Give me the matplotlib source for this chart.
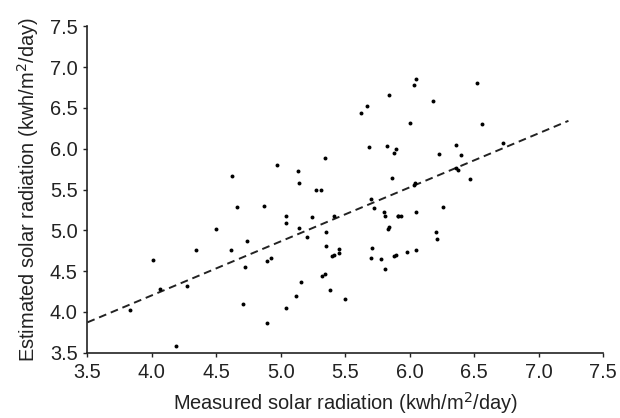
import matplotlib
matplotlib.use("Agg")
import matplotlib.pyplot as plt
import numpy as np

plt.rcParams['font.family'] = ['Liberation Sans', 'DejaVu Sans']

# measured vs estimated solar radiation (kwh/m2/day)
measured = [
    4.62, 4.66, 4.50, 4.74, 4.34, 4.61, 4.01, 4.72, 4.06, 4.27, 3.83, 4.71, 4.19,
    4.97, 5.34, 5.88, 5.13, 5.14, 5.27, 5.31, 5.86, 4.87, 5.70, 5.72, 5.80, 5.81,
    5.91, 5.84, 5.83, 5.04, 5.04, 5.41, 5.24, 5.14, 5.20, 5.35, 5.35, 4.89, 4.92,
    5.40, 5.41, 5.45, 5.45, 5.71, 5.70, 5.78, 5.81, 5.88, 5.89, 5.32, 5.34, 5.16,
    5.12, 5.38, 5.50, 5.04, 4.89,
    6.05, 6.03, 5.84, 6.52, 6.18, 6.00, 6.56, 5.82, 5.89, 6.36, 6.23, 6.40, 6.36,
    6.37, 6.47, 6.04, 6.03, 5.91, 5.93, 6.05, 6.26, 6.20, 6.21, 5.98, 6.05,
    5.67, 5.62, 5.68, 6.72,
]
estimated = [
    5.67, 5.29, 5.02, 4.87, 4.76, 4.76, 4.64, 4.55, 4.28, 4.32, 4.03, 4.10, 3.58,
    5.80, 5.89, 5.95, 5.73, 5.58, 5.50, 5.50, 5.64, 5.30, 5.38, 5.28, 5.23, 5.17,
    5.18, 5.04, 5.02, 5.18, 5.09, 5.18, 5.16, 5.03, 4.92, 4.98, 4.81, 4.63, 4.66,
    4.69, 4.70, 4.77, 4.72, 4.79, 4.66, 4.65, 4.53, 4.69, 4.70, 4.44, 4.47, 4.37,
    4.19, 4.27, 4.16, 4.05, 3.86,
    6.85, 6.78, 6.66, 6.81, 6.59, 6.31, 6.30, 6.03, 6.00, 6.04, 5.93, 5.92, 5.76,
    5.74, 5.63, 5.58, 5.55, 5.18, 5.18, 5.23, 5.29, 4.98, 4.89, 4.74, 4.76,
    6.52, 6.44, 6.02, 6.07,
]

# fitted trend line
fit_x = [3.5, 7.23]
fit_intercept = 3.873
fit_slope = 0.662

ticks = np.arange(3.5, 7.51, 0.5)
tick_labels = [f"{v:.1f}" for v in ticks]

fig = plt.figure(figsize=(6.2, 4.18), dpi=100)
ax = fig.add_axes([0.141, 0.156, 0.832, 0.781])

ax.scatter(measured, estimated, s=8, color='black', zorder=3, linewidths=0)
fx = np.array(fit_x)
ax.plot(fx, fit_intercept + fit_slope * (fx - 3.5), color='#222222',
        lw=1.4, linestyle=(0, (4, 2.5)))

ax.set_xlim(3.5, 7.5)
ax.set_ylim(3.5, 7.5)
ax.set_xticks(ticks)
ax.set_yticks(ticks)
ax.set_xticklabels(tick_labels)
ax.set_yticklabels(tick_labels)
ax.tick_params(labelsize=14.4, direction='out', length=3, width=1,
               colors='#222222', pad=4)
for side in ['top', 'right']:
    ax.spines[side].set_visible(False)
for side in ['left', 'bottom']:
    ax.spines[side].set_linewidth(1.2)
    ax.spines[side].set_color('#222222')

ax.set_xlabel('Measured solar radiation (kwh/m$^2$/day)', fontsize=14.4,
              color='#222222', labelpad=6)
ax.set_ylabel('Estimated solar radiation (kwh/m$^2$/day)', fontsize=14.4,
              color='#222222', labelpad=6)

fig.savefig('out.png', dpi=100)
